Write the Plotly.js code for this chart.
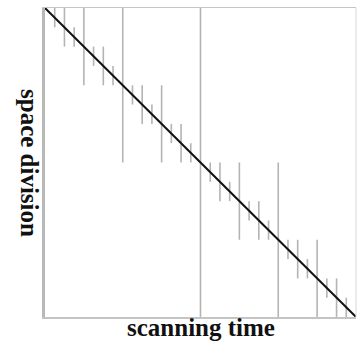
<!DOCTYPE html>
<html>
<head>
<meta charset="utf-8">
<script src="https://cdn.plot.ly/plotly-3.0.1.min.js"></script>
<style>html,body{margin:0;padding:0;background:#fff;}#chart{width:359px;height:345px;}</style>
</head>
<body>
<div id="chart"></div>
<script>
// scanning-time positions of the division marks (in 1/32 steps)
var scanTime = [1,2,3,4,5,6,7,8,9,10,11,12,13,14,15,16,17,18,19,20,21,22,23,24,25,26,27,28,29,30,31];
// half span of each division mark (space units)
var halfSpan = [1,2,1,4,1,2,1,8,1,2,1,4,1,2,1,16,1,2,1,4,1,2,1,8,1,2,1,4,1,2,1];
// diagonal scan path
var pathX = [0, 32];
var pathY = [32, 0];
var xTitle = 'scanning time';
var yTitle = 'space division';

var segX = [], segY = [];
for (var i = 0; i < scanTime.length; i++) {
  var cy = 32 - scanTime[i];
  segX.push(scanTime[i], scanTime[i], null);
  segY.push(cy - halfSpan[i], cy + halfSpan[i], null);
}

var traces = [
  {x: segX, y: segY, mode: 'lines', type: 'scatter', line: {color: '#b4b4b4', width: 1.6}, hoverinfo: 'skip', cliponaxis: true},
  {x: pathX, y: pathY, mode: 'lines', type: 'scatter', line: {color: '#111111', width: 2}, hoverinfo: 'skip'}
];

var layout = {
  width: 359, height: 345,
  margin: {l: 45, r: 3, t: 8, b: 28},
  paper_bgcolor: '#ffffff', plot_bgcolor: '#ffffff',
  showlegend: false,
  xaxis: {range: [0, 32], showgrid: false, zeroline: false, showticklabels: false, ticks: '',
          showline: true, mirror: true, linecolor: '#c4c4c4', linewidth: 1.5},
  yaxis: {range: [0, 32], showgrid: false, zeroline: false, showticklabels: false, ticks: '',
          showline: true, linecolor: '#b8b8b8', linewidth: 3},
  shapes: [
    {type: 'line', xref: 'paper', yref: 'paper', x0: 1, x1: 1, y0: 0, y1: 1, line: {color: '#d8d8d8', width: 1}}
  ],
  annotations: [
    {text: '<b>' + xTitle + '</b>', xref: 'paper', yref: 'paper', x: 0.5, y: 0, yshift: -26, showarrow: false,
     font: {family: 'Liberation Serif, Times New Roman, serif', size: 25, color: '#111'}},
    {text: '<b>' + yTitle + '</b>', xref: 'paper', yref: 'paper', x: 0, y: 0.5, xshift: -31, textangle: 90, showarrow: false,
     font: {family: 'Liberation Serif, Times New Roman, serif', size: 25, color: '#111'}}
  ]
};

Plotly.newPlot('chart', traces, layout, {staticPlot: true, displayModeBar: false});
</script>
</body>
</html>
